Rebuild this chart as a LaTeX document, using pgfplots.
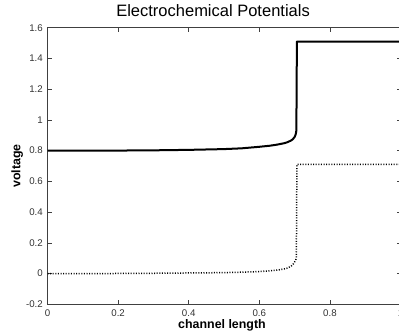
\documentclass[border=0pt]{standalone}
\usepackage{pgfplots}
\pgfplotsset{compat=1.18}
\usepackage{fontspec}
\setmainfont{Liberation Sans}
\begin{document}
\begin{tikzpicture}
\path[use as bounding box] (0,0) rectangle (399pt,333pt);
\clip (0,0) rectangle (399pt,333pt);
\begin{axis}[
  at={(47.5pt,28.7pt)}, anchor=south west,
  scale only axis, width=353pt, height=276.6pt,
  xmin=0, xmax=1, ymin=-0.2, ymax=1.6,
  xtick={0,0.2,0.4,0.6,0.8,1},
  ytick={-0.2,0,0.2,0.4,0.6,0.8,1,1.2,1.4,1.6},
  xtick pos=both, ytick pos=both,
  xticklabel pos=lower, yticklabel pos=left,
  tick align=inside, major tick length=4pt,
  minor tick num=0,
  axis line style={black!75, line width=0.7pt},
  tick style={black!75, line width=0.6pt},
  /pgf/number format/assume math mode=true,
  ticklabel style={font=\fontsize{9.7}{11}\selectfont, text=black!80},
  yticklabel style={inner sep=0pt, anchor=east, xshift=-4.5pt},
  xticklabel style={inner sep=0pt, anchor=north, yshift=-5.5pt},
  xlabel={channel length},
  ylabel={voltage},
  xlabel style={at={(axis description cs:0.4943,-0.0868)}, anchor=base, inner sep=0pt, font=\bfseries\fontsize{12.4}{14}\selectfont},
  ylabel style={at={(axis description cs:-0.0765,0.5)}, anchor=base, inner sep=0pt, rotate=0, font=\bfseries\fontsize{12.4}{14}\selectfont},
  title={Electrochemical Potentials},
  title style={at={(axis description cs:0.469,1.018)}, anchor=base, inner sep=0pt, font=\fontsize{16.5}{19}\selectfont},
  clip=false,
]
\addplot[black, line width=2pt, line join=round] table {
x y
0 0.8
0.1 0.8
0.2 0.8005
0.3 0.802
0.4 0.805
0.5 0.81
0.55 0.815
0.6 0.825
0.63 0.832
0.65 0.839
0.67 0.848
0.68 0.855
0.69 0.866
0.695 0.874
0.70 0.889
0.703 0.905
0.705 0.93
0.7065 1.51
1 1.51
};
\addplot[black, line width=1.5pt, dash pattern=on 1pt off 1.6pt] table {
x y
0 0
0.1 0
0.2 0.0005
0.3 0.002
0.4 0.004
0.5 0.006
0.55 0.009
0.6 0.013
0.63 0.018
0.65 0.022
0.67 0.03
0.68 0.036
0.69 0.048
0.695 0.058
0.70 0.075
0.703 0.088
0.705 0.1
0.7065 0.71
1 0.71
};
\end{axis}
\end{tikzpicture}
\end{document}
